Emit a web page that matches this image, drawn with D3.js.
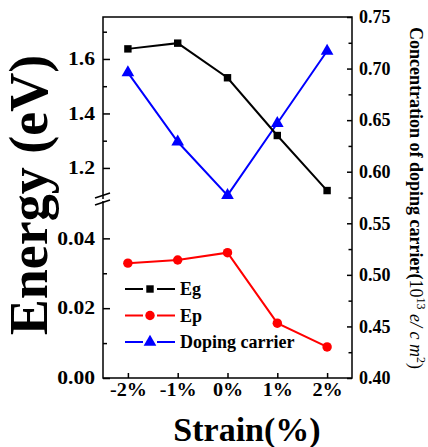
<!DOCTYPE html>
<html>
<head>
<meta charset="utf-8">
<script src="https://cdn.jsdelivr.net/npm/d3@7"></script>
<style>
	body{margin:0;background:#fff;}
	text{font-family:"Liberation Serif","Times New Roman",serif;font-weight:bold;fill:#000;}
</style>
</head>
<body>
<script>
(function(){
	// Data
	let strain = [-2, -1, 0, 1, 2];
	let strainLabels = ['-2%', '-1%', '0%', '1%', '2%'];
	let eg = [1.637, 1.658, 1.531, 1.319, 1.117];
	let ep = [0.0329, 0.0338, 0.0359, 0.0157, 0.0089];
	let doping = [0.696, 0.629, 0.577, 0.647, 0.717];

	let topTicks = [1.2, 1.4, 1.6], topMinor = [1.3, 1.5, 1.7];
	let botTicks = [0, 0.02, 0.04], botMinor = [0.01, 0.03];
	let rightTicks = [0.40, 0.45, 0.50, 0.55, 0.60, 0.65, 0.70, 0.75];
	let rightMinor = [0.425, 0.475, 0.525, 0.575, 0.625, 0.675, 0.725];

	let legendItems = [
		{name: 'Eg', color: '#000', shape: d3.symbolSquare},
		{name: 'Ep', color: '#ff0000', shape: d3.symbolCircle},
		{name: 'Doping carrier', color: '#0000ff', shape: d3.symbolTriangle}
	];

	let W = 428, H = 447,
		pLeft = 103, pRight = 352, pTop = 17, pBottom = 378,
		breakTop = 199, breakBot = 201;

	let svg = d3.select('body').append('svg')
		.attr('width', W).attr('height', H);

	// Scales
	let x = d3.scaleLinear().domain([-2.5, 2.5]).range([pLeft, pRight]);
	let yTop = d3.scaleLinear().domain([1.086, 1.754]).range([breakTop, pTop]);
	let yBot = d3.scaleLinear().domain([0, 0.0507]).range([pBottom, breakBot]);
	let yR = d3.scaleLinear().domain([0.40, 0.75]).range([pBottom, pTop]);

	function stretch(sel, k){
		sel.each(function(){
			let len = this.getComputedTextLength();
			d3.select(this).attr('textLength', len * k).attr('lengthAdjust', 'spacingAndGlyphs');
		});
	}
	function styleAxis(g){
		g.select('.domain').remove();
		g.selectAll('line').attr('stroke', '#000').attr('stroke-width', 1.5);
		g.selectAll('text').attr('font-size', 18).attr('font-family', null);
	}

	// Left axis, top part
	svg.append('g').attr('transform', 'translate(' + pLeft + ',0)')
		.call(d3.axisLeft(yTop).tickValues(topTicks).tickFormat(d3.format('.1f'))
			.tickSizeInner(-7).tickSizeOuter(0).tickPadding(8))
		.call(styleAxis)
		.call(g => g.selectAll('text').call(stretch, 1.2));
	svg.append('g').attr('transform', 'translate(' + pLeft + ',0)')
		.call(d3.axisLeft(yTop).tickValues(topMinor).tickFormat('').tickSizeInner(-4).tickSizeOuter(0))
		.call(styleAxis);

	// Left axis, bottom part
	svg.append('g').attr('transform', 'translate(' + pLeft + ',0)')
		.call(d3.axisLeft(yBot).tickValues(botTicks).tickFormat(d3.format('.2f'))
			.tickSizeInner(-7).tickSizeOuter(0).tickPadding(8))
		.call(styleAxis)
		.call(g => g.selectAll('text').call(stretch, 1.2));
	svg.append('g').attr('transform', 'translate(' + pLeft + ',0)')
		.call(d3.axisLeft(yBot).tickValues(botMinor).tickFormat('').tickSizeInner(-4).tickSizeOuter(0))
		.call(styleAxis);

	// Right axis
	svg.append('g').attr('transform', 'translate(' + pRight + ',0)')
		.call(d3.axisRight(yR).tickValues(rightTicks).tickFormat(d3.format('.2f'))
			.tickSizeInner(-5).tickSizeOuter(0).tickPadding(7))
		.call(styleAxis);
	svg.append('g').attr('transform', 'translate(' + pRight + ',0)')
		.call(d3.axisRight(yR).tickValues(rightMinor).tickFormat('').tickSizeInner(-3.5).tickSizeOuter(0))
		.call(styleAxis);

	// Bottom axis
	svg.append('g').attr('transform', 'translate(0,' + pBottom + ')')
		.call(d3.axisBottom(x).tickValues(strain).tickFormat((d, i) => strainLabels[i])
			.tickSizeInner(-5).tickSizeOuter(0).tickPadding(5))
		.call(styleAxis)
		.call(g => g.selectAll('text').call(stretch, 1.12));

	// Frame
	let frame = svg.append('g').attr('stroke', '#000').attr('stroke-width', 1.5).attr('fill', 'none');
	frame.append('path').attr('d', 'M' + pLeft + ',' + breakTop + 'V' + pTop + 'H' + pRight + 'V' + pBottom + 'H' + pLeft + 'V' + breakBot);
	// Axis break marks
	frame.append('path').attr('d', 'M' + (pLeft - 8) + ',' + (breakTop - 1) + 'l15,-5');
	frame.append('path').attr('d', 'M' + (pLeft - 8) + ',' + (breakBot + 4) + 'l15,-5');

	// Series
	let pts = (vals, ys) => vals.map((v, i) => [x(strain[i]), ys(v)]);
	let series = [
		{vals: doping, ys: yR, item: legendItems[2], size: 70},
		{vals: eg, ys: yTop, item: legendItems[0], size: 55},
		{vals: ep, ys: yBot, item: legendItems[1], size: 70}
	];
	series.forEach(s => {
		let p = pts(s.vals, s.ys);
		svg.append('path')
			.attr('d', d3.line()(p))
			.attr('fill', 'none')
			.attr('stroke', s.item.color)
			.attr('stroke-width', 2);
		svg.append('g').selectAll('path')
			.data(p).enter()
			.append('path')
			.attr('transform', d => 'translate(' + d[0] + ',' + d[1] + ')')
			.attr('d', d3.symbol().type(s.item.shape).size(s.size))
			.attr('fill', s.item.color);
	});

	// Legend
	let legend = svg.append('g').selectAll('g')
		.data(legendItems).enter()
		.append('g')
		.attr('transform', (d, i) => 'translate(150,' + (289 + i * 26.5) + ')');
	legend.append('path')
		.attr('d', 'M-25,0H-7M7,0H25')
		.attr('stroke', d => d.color)
		.attr('stroke-width', 2);
	legend.append('path')
		.attr('d', d => d3.symbol().type(d.shape).size(d.shape === d3.symbolSquare ? 55 : 70)())
		.attr('fill', d => d.color);
	legend.append('text')
		.attr('x', 30)
		.attr('dy', '0.35em')
		.attr('font-size', 18)
		.text(d => d.name);

	// Axis titles
	svg.append('text')
		.attr('transform', 'translate(247,441)')
		.attr('text-anchor', 'middle')
		.attr('font-size', 34)
		.text('Strain(%)');

	svg.append('text')
		.attr('transform', 'translate(47,195) rotate(-90)')
		.attr('text-anchor', 'middle')
		.attr('font-size', 54)
		.text('Energy (eV)');

	let rt = svg.append('text')
		.attr('transform', 'translate(410,198) rotate(90)')
		.attr('text-anchor', 'middle')
		.attr('font-size', 18);
	rt.append('tspan').text('Concentration of doping carrier(');
	rt.append('tspan').attr('font-weight', 'normal').text('10');
	rt.append('tspan').attr('font-weight', 'normal').attr('font-size', 12).attr('dy', -7).text('13');
	rt.append('tspan').attr('font-weight', 'normal').attr('font-style', 'italic').attr('dy', 7).text(' e/ c m');
	rt.append('tspan').attr('font-weight', 'normal').attr('font-size', 12).attr('dy', -7).text('2');
	rt.append('tspan').attr('font-weight', 'normal').attr('dy', 7).text(')');
})();
</script>
</body>
</html>
